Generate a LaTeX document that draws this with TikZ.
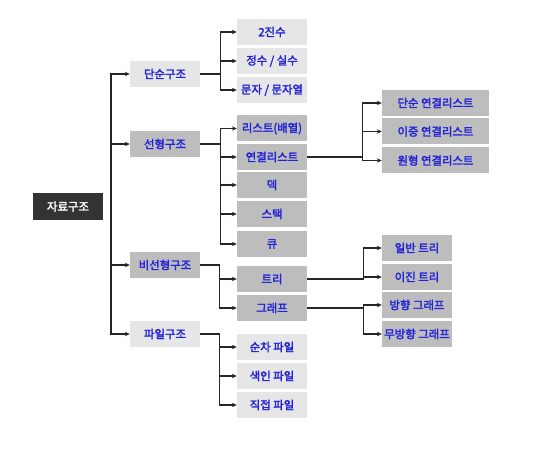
\documentclass[tikz,border=0pt]{standalone}
\usepackage{fontspec}
\setmainfont{Noto Sans CJK KR}[BoldFont={Noto Sans CJK KR},BoldFeatures={FakeBold=2.4}]
\usepackage{tikz}
\usetikzlibrary{arrows.meta,positioning,calc}
\usepackage{xcolor}
\definecolor{lightbox}{HTML}{E6E6E6}
\definecolor{darkbox}{HTML}{BDBDBD}
\definecolor{rootbox}{HTML}{333333}
\definecolor{labelblue}{HTML}{2222D8}
\tikzset{
  box/.style={minimum width=70pt,minimum height=26pt,inner sep=0pt,
    font=\fontsize{11.4}{13}\selectfont\bfseries,text=labelblue},
  light/.style={box,fill=lightbox},
  dark/.style={box,fill=darkbox},
  wide/.style={minimum width=107pt},
  link/.style={line width=1.1pt,draw=black!85}
}
\tikzstyle{arrow} = [link,-{Stealth[length=5pt,width=4.5pt]}]

\begin{document}
\begin{tikzpicture}[x=1pt,y=-1pt]
  \useasboundingbox (0,0) rectangle (533,449);
  % root and first level
  \node[box,fill=rootbox,text=white,minimum height=27pt] (root) at (68,206.5) {자료구조};
  \coordinate (trunk) at (111,206);
  \node[light] (simple) at (165,74) {단순구조};
  \node[dark] (linear) at (165,144) {선형구조};
  \node[dark] (nonlinear) at (165,265) {비선형구조};
  \node[light] (file) at (165,334) {파일구조};
  % second level
  \node[light] (binary) at (272,32) {2진수};
  \node[light] (number) at (272,61) {정수 / 실수};
  \node[light] (string) at (272,90) {문자 / 문자열};
  \node[dark] (array) at (272,128.5) {리스트(배열)};
  \node[dark] (linked) at (272,157) {연결리스트};
  \node[dark] (deque) at (272,185) {덱};
  \node[dark] (stack) at (272,214) {스택};
  \node[dark] (queue) at (272,244) {큐};
  \node[dark] (tree) at (272,279) {트리};
  \node[dark] (graph) at (272,308) {그래프};
  \node[light] (seqfile) at (272,347) {순차 파일};
  \node[light] (idxfile) at (272,376) {색인 파일};
  \node[light] (dirfile) at (272,405) {직접 파일};
  % third level
  \node[dark,wide] (single) at (435.5,103) {단순 연결리스트};
  \node[dark,wide] (double) at (435.5,131.5) {이중 연결리스트};
  \node[dark,wide] (circular) at (435.5,160.5) {원형 연결리스트};
  \node[dark] (gentree) at (417,248) {일반 트리};
  \node[dark] (bintree) at (417,277) {이진 트리};
  \node[dark] (digraph) at (417,305) {방향 그래프};
  \node[dark] (undigraph) at (417,334) {무방향 그래프};
  % connectors
  \draw[arrow] (trunk) |- (simple.west);
  \draw[arrow] (trunk) |- (linear.west);
  \draw[arrow] (trunk) |- (nonlinear.west);
  \draw[arrow] (trunk) |- (file.west);
  \draw[arrow] (simple.east) -- ++(20,0) |- (binary.west);
  \draw[arrow] (simple.east) -- ++(20,0) |- (number.west);
  \draw[arrow] (simple.east) -- ++(20,0) |- (string.west);
  \draw[arrow] (linear.east) -- ++(20,0) |- (array.west);
  \draw[arrow] (linear.east) -- ++(20,0) |- (linked.west);
  \draw[arrow] (linear.east) -- ++(20,0) |- (deque.west);
  \draw[arrow] (linear.east) -- ++(20,0) |- (stack.west);
  \draw[arrow] (linear.east) -- ++(20,0) |- (queue.west);
  \draw[arrow] (nonlinear.east) -- ++(19,0) |- (tree.west);
  \draw[arrow] (nonlinear.east) -- ++(19,0) |- (graph.west);
  \draw[arrow] (file.east) -- ++(19,0) |- (seqfile.west);
  \draw[arrow] (file.east) -- ++(19,0) |- (idxfile.west);
  \draw[arrow] (file.east) -- ++(19,0) |- (dirfile.west);
  \draw[arrow] (linked.east) -- ++(55,0) |- (single.west);
  \draw[arrow] (linked.east) -- ++(55,0) |- (double.west);
  \draw[arrow] (linked.east) -- ++(55,0) |- (circular.west);
  \draw[arrow] (tree.east) -- ++(56,0) |- (gentree.west);
  \draw[arrow] (tree.east) -- ++(56,0) |- (bintree.west);
  \draw[arrow] (graph.east) -- ++(56,0) |- (digraph.west);
  \draw[arrow] (graph.east) -- ++(56,0) |- (undigraph.west);
\end{tikzpicture}
\end{document}
